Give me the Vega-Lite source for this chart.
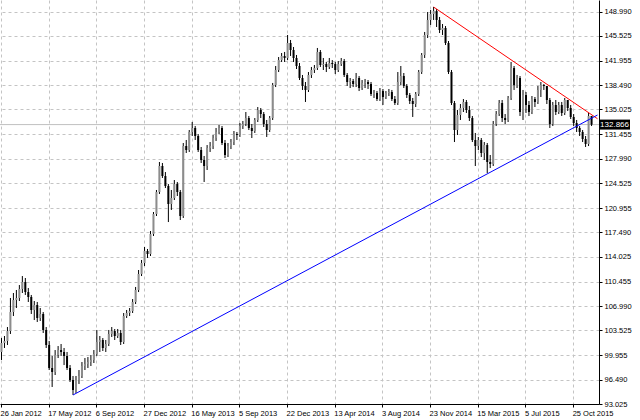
{
"$schema":"https://vega.github.io/schema/vega-lite/v6.json",
"width":599,"height":404,
"autosize":{"type":"none"},
"padding":{"left":0,"top":0,"right":41,"bottom":16},
"background":"white",
"config":{"view":{"stroke":null}},
"datasets":{
"bars":[
{"d":"2012-01-26","o":100.44,"h":102.43,"l":99.30,"c":101.72},
{"d":"2012-02-02","o":101.72,"h":102.72,"l":101.01,"c":102.01},
{"d":"2012-02-09","o":102.01,"h":104.00,"l":101.44,"c":103.43},
{"d":"2012-02-16","o":103.43,"h":108.14,"l":103.01,"c":106.14},
{"d":"2012-02-23","o":106.14,"h":108.85,"l":105.57,"c":107.85},
{"d":"2012-03-01","o":107.85,"h":109.28,"l":106.71,"c":108.14},
{"d":"2012-03-08","o":108.14,"h":109.99,"l":107.71,"c":109.42},
{"d":"2012-03-15","o":109.42,"h":111.27,"l":108.85,"c":110.42},
{"d":"2012-03-22","o":110.42,"h":110.99,"l":108.57,"c":108.99},
{"d":"2012-03-29","o":108.99,"h":109.56,"l":107.57,"c":108.28},
{"d":"2012-04-05","o":108.28,"h":108.57,"l":105.86,"c":106.43},
{"d":"2012-04-12","o":106.43,"h":107.71,"l":105.00,"c":107.14},
{"d":"2012-04-19","o":107.14,"h":107.57,"l":104.72,"c":105.29},
{"d":"2012-04-26","o":105.29,"h":106.71,"l":104.86,"c":105.86},
{"d":"2012-05-03","o":105.86,"h":106.14,"l":103.15,"c":103.58},
{"d":"2012-05-10","o":103.58,"h":104.00,"l":101.01,"c":101.44},
{"d":"2012-05-17","o":101.44,"h":102.01,"l":97.87,"c":98.16},
{"d":"2012-05-24","o":98.16,"h":99.87,"l":95.45,"c":97.59},
{"d":"2012-05-31","o":97.59,"h":100.72,"l":97.16,"c":100.01},
{"d":"2012-06-07","o":100.01,"h":101.29,"l":99.58,"c":100.72},
{"d":"2012-06-14","o":100.72,"h":101.58,"l":99.87,"c":100.44},
{"d":"2012-06-21","o":100.44,"h":101.01,"l":98.58,"c":99.87},
{"d":"2012-06-28","o":99.87,"h":100.44,"l":97.87,"c":98.16},
{"d":"2012-07-05","o":98.16,"h":98.58,"l":96.16,"c":96.45},
{"d":"2012-07-12","o":96.45,"h":97.02,"l":94.31,"c":95.02},
{"d":"2012-07-19","o":95.02,"h":97.02,"l":94.59,"c":96.45},
{"d":"2012-07-26","o":96.45,"h":97.87,"l":95.88,"c":97.02},
{"d":"2012-08-02","o":97.02,"h":99.01,"l":96.73,"c":98.44},
{"d":"2012-08-09","o":98.44,"h":99.58,"l":97.87,"c":98.72},
{"d":"2012-08-16","o":98.72,"h":99.72,"l":98.16,"c":99.01},
{"d":"2012-08-23","o":99.01,"h":100.01,"l":98.44,"c":99.30},
{"d":"2012-08-30","o":99.30,"h":100.72,"l":98.87,"c":100.15},
{"d":"2012-09-06","o":100.15,"h":103.58,"l":99.87,"c":101.86},
{"d":"2012-09-13","o":101.86,"h":102.72,"l":100.44,"c":102.15},
{"d":"2012-09-20","o":102.15,"h":102.43,"l":100.58,"c":101.01},
{"d":"2012-09-27","o":101.01,"h":102.15,"l":100.44,"c":101.58},
{"d":"2012-10-04","o":101.58,"h":103.58,"l":101.29,"c":103.01},
{"d":"2012-10-11","o":103.01,"h":104.00,"l":102.58,"c":103.43},
{"d":"2012-10-18","o":103.43,"h":103.72,"l":102.15,"c":102.72},
{"d":"2012-10-25","o":102.72,"h":103.72,"l":102.43,"c":103.15},
{"d":"2012-11-01","o":103.15,"h":103.58,"l":101.44,"c":101.86},
{"d":"2012-11-08","o":101.86,"h":106.00,"l":101.58,"c":105.57},
{"d":"2012-11-15","o":105.57,"h":106.43,"l":105.29,"c":106.00},
{"d":"2012-11-22","o":106.00,"h":106.71,"l":105.57,"c":106.28},
{"d":"2012-11-29","o":106.28,"h":107.99,"l":106.00,"c":107.57},
{"d":"2012-12-06","o":107.57,"h":109.71,"l":107.28,"c":109.28},
{"d":"2012-12-13","o":109.28,"h":112.13,"l":108.99,"c":111.56},
{"d":"2012-12-20","o":111.56,"h":113.56,"l":111.27,"c":113.13},
{"d":"2012-12-27","o":113.13,"h":115.41,"l":112.70,"c":114.84},
{"d":"2013-01-03","o":114.84,"h":115.13,"l":113.84,"c":114.41},
{"d":"2013-01-10","o":114.41,"h":117.69,"l":114.13,"c":117.26},
{"d":"2013-01-17","o":117.26,"h":120.40,"l":116.98,"c":120.12},
{"d":"2013-01-24","o":120.12,"h":123.54,"l":119.83,"c":123.25},
{"d":"2013-01-31","o":123.25,"h":127.53,"l":122.97,"c":126.96},
{"d":"2013-02-07","o":126.96,"h":127.39,"l":125.25,"c":125.53},
{"d":"2013-02-14","o":125.53,"h":126.10,"l":123.82,"c":124.11},
{"d":"2013-02-21","o":124.11,"h":124.39,"l":118.97,"c":121.54},
{"d":"2013-02-28","o":121.54,"h":123.54,"l":120.69,"c":122.40},
{"d":"2013-03-07","o":122.40,"h":124.96,"l":122.11,"c":124.39},
{"d":"2013-03-14","o":124.39,"h":124.68,"l":122.68,"c":123.25},
{"d":"2013-03-21","o":123.25,"h":123.54,"l":119.26,"c":119.83},
{"d":"2013-03-28","o":119.83,"h":130.24,"l":119.55,"c":129.81},
{"d":"2013-04-04","o":129.81,"h":130.67,"l":128.81,"c":129.24},
{"d":"2013-04-11","o":129.24,"h":132.09,"l":128.96,"c":131.81},
{"d":"2013-05-16","o":131.81,"h":133.23,"l":131.24,"c":132.38},
{"d":"2013-05-23","o":132.38,"h":132.66,"l":130.67,"c":131.24},
{"d":"2013-05-30","o":131.24,"h":131.52,"l":128.96,"c":129.24},
{"d":"2013-06-06","o":129.24,"h":129.67,"l":127.39,"c":127.82},
{"d":"2013-06-13","o":127.82,"h":128.39,"l":124.68,"c":126.96},
{"d":"2013-06-20","o":126.96,"h":129.95,"l":126.39,"c":129.53},
{"d":"2013-06-27","o":129.53,"h":130.38,"l":128.96,"c":129.81},
{"d":"2013-07-04","o":129.81,"h":131.38,"l":129.38,"c":130.95},
{"d":"2013-07-11","o":130.95,"h":132.38,"l":130.53,"c":131.81},
{"d":"2013-07-18","o":131.81,"h":132.81,"l":131.52,"c":132.38},
{"d":"2013-07-25","o":132.38,"h":132.66,"l":129.95,"c":130.24},
{"d":"2013-08-01","o":130.24,"h":130.67,"l":128.10,"c":128.53},
{"d":"2013-08-08","o":128.53,"h":130.24,"l":128.24,"c":129.81},
{"d":"2013-08-15","o":129.81,"h":130.81,"l":129.38,"c":130.38},
{"d":"2013-08-22","o":130.38,"h":131.95,"l":129.95,"c":131.52},
{"d":"2013-08-29","o":131.52,"h":131.81,"l":130.67,"c":131.38},
{"d":"2013-09-05","o":131.38,"h":133.09,"l":131.10,"c":132.66},
{"d":"2013-09-12","o":132.66,"h":133.38,"l":132.24,"c":132.95},
{"d":"2013-09-19","o":132.95,"h":134.66,"l":132.66,"c":133.80},
{"d":"2013-09-26","o":133.80,"h":134.09,"l":132.09,"c":132.38},
{"d":"2013-10-03","o":132.38,"h":132.95,"l":130.95,"c":131.95},
{"d":"2013-10-10","o":131.95,"h":133.80,"l":131.67,"c":133.52},
{"d":"2013-10-17","o":133.52,"h":135.37,"l":133.23,"c":134.95},
{"d":"2013-10-24","o":134.95,"h":135.23,"l":133.80,"c":134.37},
{"d":"2013-10-31","o":134.37,"h":134.66,"l":132.52,"c":132.95},
{"d":"2013-11-07","o":132.95,"h":133.52,"l":131.10,"c":132.09},
{"d":"2013-11-14","o":132.09,"h":134.09,"l":131.81,"c":133.80},
{"d":"2013-11-21","o":133.80,"h":138.80,"l":133.52,"c":138.51},
{"d":"2013-11-28","o":138.51,"h":141.22,"l":138.22,"c":140.65},
{"d":"2013-12-05","o":140.65,"h":142.50,"l":140.36,"c":142.07},
{"d":"2013-12-12","o":142.07,"h":143.07,"l":141.79,"c":142.65},
{"d":"2013-12-19","o":142.65,"h":143.22,"l":141.79,"c":142.36},
{"d":"2013-12-22","o":142.36,"h":145.64,"l":142.07,"c":144.50},
{"d":"2013-12-29","o":144.50,"h":144.93,"l":142.65,"c":143.50},
{"d":"2014-01-05","o":143.50,"h":143.93,"l":141.79,"c":142.36},
{"d":"2014-01-12","o":142.36,"h":142.79,"l":140.79,"c":141.22},
{"d":"2014-01-19","o":141.22,"h":141.65,"l":139.22,"c":139.51},
{"d":"2014-01-26","o":139.51,"h":139.94,"l":137.80,"c":138.37},
{"d":"2014-02-02","o":138.37,"h":138.94,"l":136.09,"c":137.80},
{"d":"2014-02-09","o":137.80,"h":140.36,"l":137.51,"c":139.94},
{"d":"2014-02-16","o":139.94,"h":141.08,"l":139.51,"c":140.65},
{"d":"2014-02-23","o":140.65,"h":141.36,"l":140.22,"c":140.93},
{"d":"2014-03-02","o":140.93,"h":143.79,"l":140.65,"c":143.22},
{"d":"2014-03-09","o":143.22,"h":143.50,"l":141.08,"c":141.36},
{"d":"2014-03-16","o":141.36,"h":142.36,"l":140.65,"c":141.50},
{"d":"2014-03-23","o":141.50,"h":141.79,"l":140.36,"c":141.08},
{"d":"2014-03-30","o":141.08,"h":142.36,"l":140.79,"c":141.65},
{"d":"2014-04-06","o":141.65,"h":142.07,"l":140.93,"c":141.50},
{"d":"2014-04-13","o":141.50,"h":141.79,"l":140.08,"c":140.65},
{"d":"2014-04-20","o":140.65,"h":141.93,"l":140.36,"c":141.50},
{"d":"2014-04-27","o":141.50,"h":142.36,"l":141.22,"c":141.93},
{"d":"2014-05-04","o":141.93,"h":142.22,"l":139.65,"c":139.94},
{"d":"2014-05-11","o":139.94,"h":140.22,"l":138.37,"c":138.94},
{"d":"2014-05-18","o":138.94,"h":139.51,"l":138.08,"c":139.08},
{"d":"2014-05-25","o":139.08,"h":139.37,"l":138.22,"c":138.65},
{"d":"2014-06-01","o":138.65,"h":140.22,"l":138.22,"c":139.51},
{"d":"2014-06-08","o":139.51,"h":139.79,"l":137.65,"c":138.08},
{"d":"2014-06-15","o":138.08,"h":139.22,"l":137.80,"c":138.80},
{"d":"2014-06-22","o":138.80,"h":139.37,"l":138.08,"c":138.94},
{"d":"2014-06-29","o":138.94,"h":139.22,"l":137.94,"c":138.65},
{"d":"2014-07-06","o":138.65,"h":138.94,"l":136.94,"c":137.23},
{"d":"2014-07-13","o":137.23,"h":137.80,"l":136.66,"c":137.37},
{"d":"2014-07-20","o":137.37,"h":137.65,"l":136.23,"c":136.51},
{"d":"2014-07-27","o":136.51,"h":138.08,"l":136.23,"c":137.65},
{"d":"2014-08-03","o":137.65,"h":137.94,"l":135.66,"c":136.80},
{"d":"2014-08-10","o":136.80,"h":137.65,"l":136.51,"c":137.37},
{"d":"2014-08-17","o":137.37,"h":137.94,"l":136.94,"c":137.51},
{"d":"2014-08-24","o":137.51,"h":137.80,"l":136.23,"c":136.51},
{"d":"2014-08-31","o":136.51,"h":136.94,"l":135.66,"c":135.94},
{"d":"2014-09-07","o":135.94,"h":140.36,"l":135.66,"c":138.94},
{"d":"2014-09-14","o":138.94,"h":141.22,"l":138.51,"c":139.79},
{"d":"2014-09-21","o":139.79,"h":140.22,"l":138.08,"c":138.37},
{"d":"2014-09-28","o":138.37,"h":138.65,"l":136.66,"c":137.08},
{"d":"2014-10-05","o":137.08,"h":137.37,"l":135.80,"c":136.23},
{"d":"2014-10-12","o":136.23,"h":136.66,"l":133.95,"c":135.80},
{"d":"2014-10-19","o":135.80,"h":137.51,"l":135.37,"c":137.23},
{"d":"2014-10-26","o":137.23,"h":140.65,"l":136.94,"c":140.36},
{"d":"2014-11-02","o":140.36,"h":143.07,"l":140.08,"c":142.79},
{"d":"2014-11-09","o":142.79,"h":146.07,"l":142.36,"c":145.64},
{"d":"2014-11-16","o":145.64,"h":148.92,"l":145.21,"c":147.78},
{"d":"2014-11-23","o":147.78,"h":149.20,"l":147.07,"c":148.63},
{"d":"2014-11-30","o":148.63,"h":149.63,"l":147.78,"c":149.06},
{"d":"2014-12-07","o":149.06,"h":149.35,"l":146.78,"c":147.78},
{"d":"2014-12-14","o":147.78,"h":148.21,"l":145.92,"c":146.35},
{"d":"2014-12-21","o":146.35,"h":147.21,"l":145.64,"c":146.64},
{"d":"2014-12-28","o":146.64,"h":146.92,"l":144.21,"c":144.50},
{"d":"2015-01-04","o":144.50,"h":144.78,"l":140.08,"c":140.36},
{"d":"2015-01-11","o":140.36,"h":140.65,"l":135.66,"c":135.94},
{"d":"2015-01-18","o":135.94,"h":136.23,"l":130.38,"c":132.09},
{"d":"2015-01-25","o":132.09,"h":134.95,"l":131.38,"c":134.23},
{"d":"2015-02-01","o":134.23,"h":135.80,"l":133.52,"c":135.23},
{"d":"2015-02-08","o":135.23,"h":136.51,"l":134.66,"c":136.09},
{"d":"2015-02-15","o":136.09,"h":136.37,"l":134.52,"c":134.95},
{"d":"2015-02-22","o":134.95,"h":135.52,"l":133.38,"c":133.80},
{"d":"2015-03-01","o":133.80,"h":134.09,"l":130.38,"c":130.67},
{"d":"2015-03-08","o":130.67,"h":131.67,"l":126.96,"c":129.81},
{"d":"2015-03-15","o":129.81,"h":131.10,"l":129.24,"c":130.67},
{"d":"2015-03-22","o":130.67,"h":130.95,"l":128.24,"c":128.81},
{"d":"2015-03-29","o":128.81,"h":130.38,"l":127.82,"c":129.95},
{"d":"2015-04-05","o":129.95,"h":130.24,"l":125.96,"c":127.53},
{"d":"2015-04-12","o":127.53,"h":128.53,"l":126.67,"c":127.25},
{"d":"2015-04-19","o":127.25,"h":133.38,"l":126.96,"c":132.95},
{"d":"2015-04-26","o":132.95,"h":134.80,"l":132.66,"c":134.37},
{"d":"2015-05-03","o":134.37,"h":136.37,"l":134.09,"c":135.94},
{"d":"2015-05-10","o":135.94,"h":136.37,"l":133.23,"c":133.80},
{"d":"2015-05-17","o":133.80,"h":134.37,"l":132.95,"c":133.52},
{"d":"2015-05-24","o":133.52,"h":136.94,"l":133.23,"c":136.66},
{"d":"2015-05-31","o":136.66,"h":141.79,"l":136.37,"c":140.93},
{"d":"2015-06-07","o":140.93,"h":141.22,"l":137.80,"c":138.51},
{"d":"2015-06-14","o":138.51,"h":139.94,"l":138.08,"c":139.51},
{"d":"2015-06-21","o":139.51,"h":139.79,"l":134.09,"c":134.66},
{"d":"2015-06-28","o":134.66,"h":137.80,"l":133.52,"c":137.08},
{"d":"2015-07-05","o":137.08,"h":137.51,"l":134.52,"c":135.66},
{"d":"2015-07-12","o":135.66,"h":136.23,"l":134.09,"c":134.66},
{"d":"2015-07-19","o":134.66,"h":136.94,"l":134.37,"c":136.51},
{"d":"2015-07-26","o":136.51,"h":136.80,"l":135.37,"c":136.09},
{"d":"2015-08-02","o":136.09,"h":138.37,"l":135.80,"c":137.80},
{"d":"2015-08-09","o":137.80,"h":138.94,"l":136.80,"c":138.51},
{"d":"2015-08-16","o":138.51,"h":138.65,"l":137.80,"c":138.37},
{"d":"2015-08-23","o":138.37,"h":138.37,"l":135.80,"c":136.37},
{"d":"2015-08-30","o":136.37,"h":136.66,"l":132.38,"c":132.95},
{"d":"2015-09-06","o":132.95,"h":136.09,"l":132.66,"c":135.66},
{"d":"2015-09-13","o":135.66,"h":136.37,"l":134.23,"c":134.66},
{"d":"2015-09-20","o":134.66,"h":136.09,"l":134.37,"c":135.66},
{"d":"2015-09-27","o":135.66,"h":136.09,"l":134.09,"c":134.52},
{"d":"2015-10-04","o":134.52,"h":136.66,"l":134.23,"c":136.37},
{"d":"2015-10-11","o":136.37,"h":136.37,"l":134.80,"c":135.23},
{"d":"2015-10-18","o":135.23,"h":135.66,"l":133.66,"c":133.95},
{"d":"2015-10-25","o":133.95,"h":134.37,"l":132.66,"c":133.09},
{"d":"2015-11-01","o":133.09,"h":133.52,"l":131.81,"c":132.38},
{"d":"2015-11-08","o":132.38,"h":132.66,"l":131.24,"c":131.81},
{"d":"2015-11-15","o":131.81,"h":132.09,"l":130.38,"c":130.81},
{"d":"2015-11-22","o":130.81,"h":131.24,"l":129.67,"c":130.10},
{"d":"2015-11-29","o":130.10,"h":134.52,"l":129.81,"c":134.09},
{"d":"2015-12-06","o":134.09,"h":134.09,"l":132.66,"c":132.866}
],
"lines":[
{"d":"2014-11-30","p":149.63,"s":"red"},
{"d":"2015-12-20","p":133.70,"s":"red"},
{"d":"2012-07-12","p":94.31,"s":"blue"},
{"d":"2015-12-20","p":134.23,"s":"blue"}
],
"bid":[{"d":"2015-12-13","price":132.866}]
},
"layer":[
{"data":{"name":"bid"},
 "mark":{"type":"rule","color":"#c0c0c0","strokeWidth":1},
 "encoding":{
  "y":{"field":"price","type":"quantitative","title":null,"scale":{"domain":[93.025,150.63],"nice":false,"zero":false},
   "axis":{"orient":"right","title":null,"tickCount":40,
     "values":[93.025,96.49,99.955,103.525,106.99,110.455,114.025,117.49,120.955,124.525,127.99,131.455,135.025,138.49,141.955,145.525,148.99],
     "format":".3f","labelFont":"Liberation Sans","labelFontSize":7.5,"labelColor":"#000000","labelPadding":2,"labelOverlap":false,"labelFlush":false,"labelBaseline":"middle",
     "tickSize":3,"tickColor":"#000000","domainColor":"#000000",
     "grid":true,"gridColor":"#c4c4c4","gridDash":[3,3],"gridWidth":1}}
 }},
{"data":{"name":"bars"},
 "mark":{"type":"rule","color":"#000000","strokeWidth":1},
 "encoding":{
  "x":{"field":"d","type":"ordinal","title":null,"scale":{"type":"band","paddingInner":0,"paddingOuter":0},
   "axis":{"orient":"bottom","title":null,"tickCount":40,
     "values":["2012-01-26","2012-05-17","2012-09-06","2012-12-27","2013-05-16","2013-09-05","2013-12-22","2014-04-13","2014-08-03","2014-11-23","2015-03-15","2015-07-05","2015-10-25"],
     "labelExpr":"utcFormat(toDate(datum.value), '%-d %b %Y')",
     "labelAlign":"left","labelBaseline":"top","labelAngle":0,"labelFont":"Liberation Sans","labelFontSize":7.5,"labelColor":"#000000",
     "labelOverlap":false,"labelFlush":false,"labelPadding":2,"labelOffset":-1,
     "tickSize":3,"tickColor":"#000000","domainColor":"#000000",
     "grid":true,"gridColor":"#c4c4c4","gridDash":[3,3],"gridWidth":1}},
  "y":{"field":"l","type":"quantitative","title":null},
  "y2":{"field":"h"}
 }},
{"data":{"name":"bars"},
 "mark":{"type":"bar","width":2},
 "encoding":{
  "x":{"field":"d","type":"ordinal","title":null},
  "y":{"field":"o","type":"quantitative","title":null},
  "y2":{"field":"c"},
  "color":{"condition":{"test":"datum.c >= datum.o","value":"#8c8c8c"},"value":"#000000"}
 }},
{"data":{"name":"lines"},
 "mark":{"type":"line","strokeWidth":1},
 "encoding":{
  "x":{"field":"d","type":"ordinal","title":null},
  "y":{"field":"p","type":"quantitative","title":null},
  "detail":{"field":"s"},
  "color":{"field":"s","type":"nominal","scale":{"domain":["red","blue"],"range":["#ff0000","#0000ff"]},"legend":null}
 }},
{"data":{"name":"bid"},
 "mark":{"type":"tick","orient":"horizontal","color":"#000000","size":31,"thickness":10,"xOffset":20,"opacity":1},
 "encoding":{
  "x":{"field":"d","type":"ordinal","title":null},
  "y":{"field":"price","type":"quantitative","title":null}
 }},
{"data":{"name":"bid"},
 "mark":{"type":"text","color":"#ffffff","font":"Liberation Sans","fontSize":8,"align":"center","baseline":"middle","xOffset":20},
 "encoding":{
  "x":{"field":"d","type":"ordinal","title":null},
  "y":{"field":"price","type":"quantitative","title":null},
  "text":{"field":"price","type":"quantitative","format":".3f"}
 }}
]
}
